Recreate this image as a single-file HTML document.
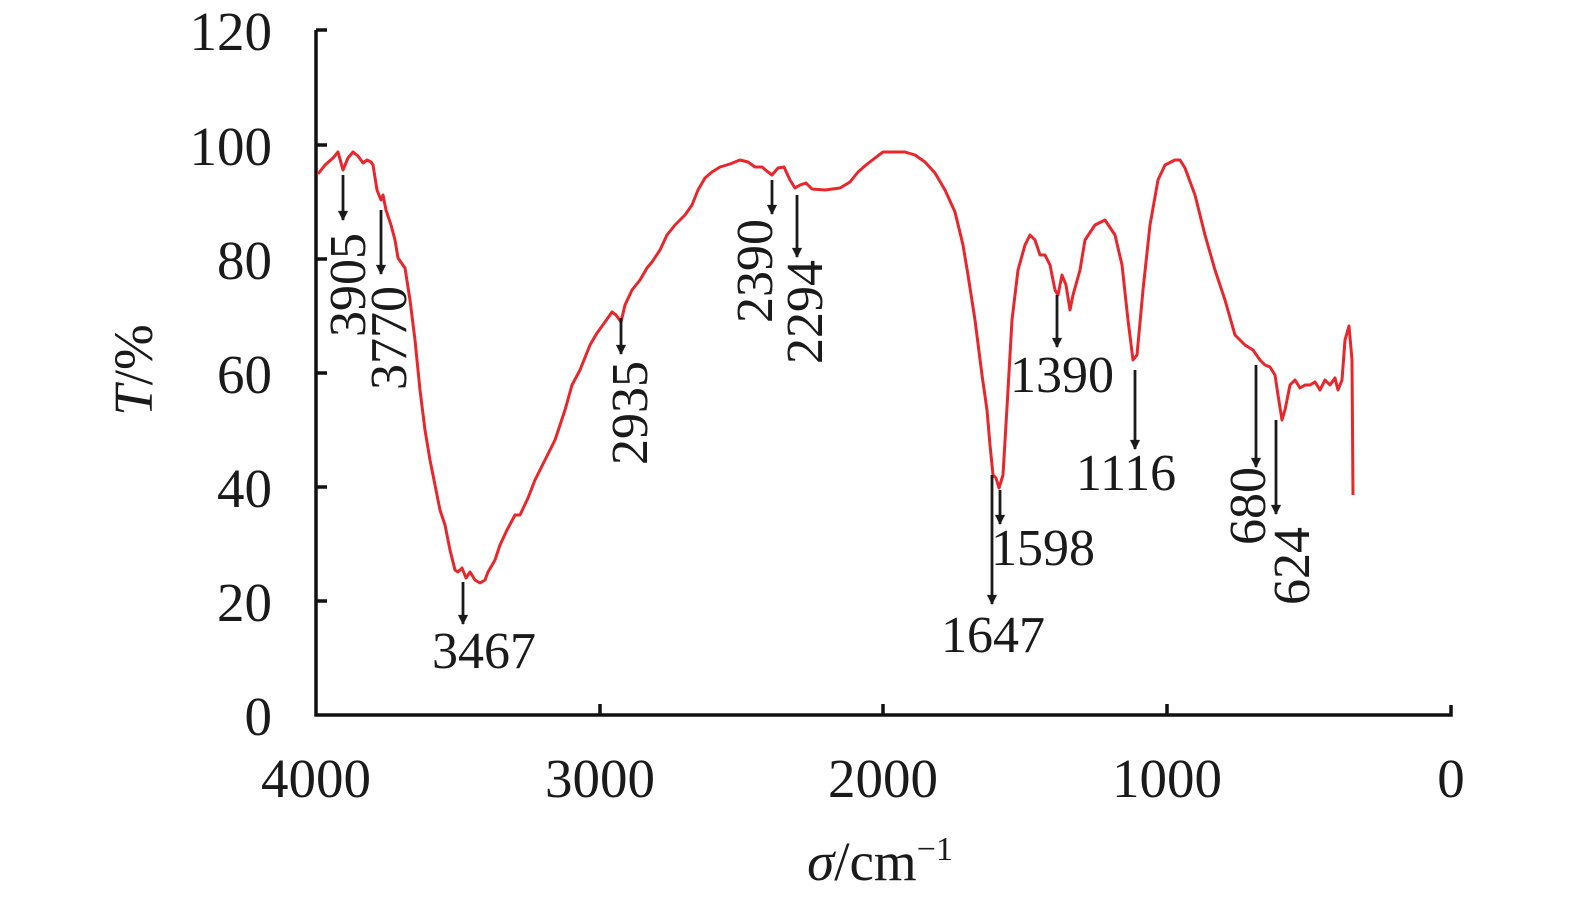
<!DOCTYPE html>
<html><head><meta charset="utf-8"><style>html,body{margin:0;padding:0;background:#fff}</style></head>
<body>
<svg width="1575" height="904" viewBox="0 0 1575 904" xmlns="http://www.w3.org/2000/svg" font-family="Liberation Serif, serif" fill="#1a1a1a">
<defs><marker id="ah" viewBox="0 0 10 10" refX="9" refY="5" markerWidth="4.5" markerHeight="3.6" orient="auto"><path d="M0,0 L10,5 L0,10 z" fill="#1a1a1a"/></marker></defs>
<g stroke="#111" stroke-width="3.5" fill="none">
<path d="M316,30 V715 H1451 V705"/>
<path d="M316,30 H327 M316,145 H327 M316,259 H327 M316,373 H327 M316,487 H327 M316,601 H327"/>
<path d="M600,715 V704 M883,715 V704 M1167,715 V704"/>
</g>
<g font-size="55" text-anchor="end">
<text x="272" y="50">120</text><text x="272" y="165">100</text><text x="272" y="279">80</text>
<text x="272" y="393">60</text><text x="272" y="507">40</text><text x="272" y="621">20</text><text x="272" y="735">0</text>
</g>
<g font-size="55" text-anchor="middle">
<text x="316" y="797">4000</text><text x="600" y="797">3000</text><text x="883" y="797">2000</text><text x="1167" y="797">1000</text><text x="1451" y="797">0</text>
<text x="880" y="880"><tspan font-style="italic">σ</tspan>/cm<tspan font-size="34" dy="-20">−1</tspan></text>
<text transform="translate(152,370) rotate(-90)"><tspan font-style="italic">T</tspan>/%</text>
</g>
<polyline fill="none" stroke="#e8262b" stroke-width="3" stroke-linejoin="round" points="318,174 325,165 333,158 338,152 343,170 348,158 353,152 358,156 363,163 367,160 371,162 373,165 377,190 381,200 383,195 386,210 391,225 395,240 398,258 405,268 410,300 415,340 420,390 425,430 430,460 435,485 440,510 445,525 450,550 455,570 458,572 462,568 466,578 470,572 475,580 480,583 485,580 488,572 495,560 500,545 507,530 515,515 520,515 528,498 535,480 545,460 555,440 565,410 572,385 580,370 590,345 597,333 605,322 612,312 616,315 621,322 625,305 632,290 640,280 647,268 652,262 660,250 667,235 675,225 685,215 692,205 698,190 705,178 712,172 720,167 730,164 740,160 748,162 755,167 762,167 768,172 772,175 778,168 784,167 790,180 795,188 800,185 806,183 812,189 825,190 840,188 850,182 858,172 866,165 875,158 883,152 895,152 905,152 915,155 925,162 935,173 945,190 955,212 963,245 968,275 975,320 982,375 987,410 990,445 993,475 996,478 999,488 1003,475 1008,390 1012,320 1018,270 1025,245 1030,235 1035,240 1040,255 1045,255 1050,265 1055,290 1058,295 1062,275 1066,285 1070,310 1073,295 1080,270 1085,240 1095,225 1105,220 1115,235 1122,265 1128,320 1133,360 1137,355 1143,290 1150,225 1158,180 1165,165 1175,160 1180,160 1185,168 1195,195 1205,235 1215,270 1225,300 1235,335 1245,345 1253,350 1260,360 1265,365 1270,367 1275,375 1278,395 1282,420 1285,410 1290,385 1295,380 1300,388 1305,385 1310,385 1315,382 1320,390 1325,380 1330,385 1335,378 1338,390 1342,380 1345,340 1349,326 1352,360 1353,495"/>
<g stroke="#1a1a1a" stroke-width="2.8" marker-end="url(#ah)">
<line x1="343" y1="175" x2="343" y2="220"/><line x1="381" y1="210" x2="381" y2="274"/>
<line x1="463" y1="582" x2="463" y2="624"/><line x1="621" y1="318" x2="621" y2="354"/>
<line x1="772" y1="180" x2="772" y2="214"/><line x1="797" y1="195" x2="797" y2="257"/>
<line x1="992" y1="475" x2="992" y2="604"/><line x1="1000" y1="490" x2="1000" y2="524"/>
<line x1="1057" y1="295" x2="1057" y2="347"/><line x1="1135" y1="370" x2="1135" y2="449"/>
<line x1="1256" y1="365" x2="1256" y2="467"/><line x1="1276" y1="420" x2="1276" y2="514"/>
</g>
<g font-size="52" text-anchor="middle">
<text x="484" y="668">3467</text><text x="993" y="652">1647</text><text x="1043" y="565">1598</text>
<text x="1062" y="392">1390</text><text x="1126" y="490">1116</text>
<text transform="translate(365,285) rotate(-90)">3905</text>
<text transform="translate(406,338) rotate(-90)">3770</text>
<text transform="translate(647,413) rotate(-90)">2935</text>
<text transform="translate(772,271) rotate(-90)">2390</text>
<text transform="translate(822,312) rotate(-90)">2294</text>
<text transform="translate(1265,506) rotate(-90)">680</text>
<text transform="translate(1309,566) rotate(-90)">624</text>
</g>
</svg>
</body></html>
